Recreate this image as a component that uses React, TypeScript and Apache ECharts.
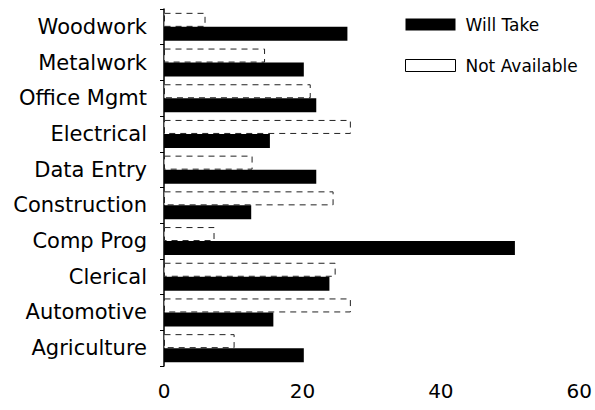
import React, { useEffect, useRef } from 'react';
import * as echarts from 'echarts';

const categories = ['Woodwork', 'Metalwork', 'Office Mgmt', 'Electrical', 'Data Entry', 'Construction', 'Comp Prog', 'Clerical', 'Automotive', 'Agriculture'];
const willTake = [26.5, 20.2, 22, 15.3, 22, 12.6, 50.7, 23.9, 15.8, 20.2];
const notAvailable = [6, 14.6, 21.2, 27, 12.8, 24.5, 7.3, 24.8, 27, 10.2];
const xMin = 0;
const xMax = 60;
const xStep = 20;

const FONT = 'DejaVu Sans';

export default function App() {
  const ref = useRef<HTMLDivElement>(null);
  useEffect(() => {
    if (!ref.current) return;
    const chart = echarts.init(ref.current, undefined, { renderer: 'svg' });
    chart.setOption({
      animation: false,
      backgroundColor: '#ffffff',
      grid: { left: 164, right: 12, top: 9, bottom: 44, containLabel: false },
      legend: {
        orient: 'vertical',
        left: 405,
        top: 16,
        padding: 0,
        icon: 'rect',
        itemWidth: 50,
        itemHeight: 12,
        itemGap: 24,
        textStyle: { fontFamily: FONT, fontSize: 17, color: '#000', padding: [0, 0, 0, 5] },
        data: [
          { name: 'Will Take', icon: 'rect' },
          { name: 'Not Available', icon: 'rect', itemStyle: { borderType: 'solid', borderColor: '#000', borderWidth: 1, color: '#fff' } },
        ],
      },
      xAxis: {
        type: 'value',
        min: xMin,
        max: xMax,
        interval: xStep,
        axisLine: { show: false },
        axisTick: { show: false },
        splitLine: { show: false },
        axisLabel: { fontFamily: FONT, fontSize: 20, color: '#000', margin: 15 },
      },
      yAxis: {
        type: 'category',
        data: categories,
        inverse: true,
        axisLine: { show: true, lineStyle: { color: '#000', width: 1.5 } },
        axisTick: { show: true, length: 4, lineStyle: { color: '#000' } },
        axisLabel: { fontFamily: FONT, fontSize: 21, color: '#000', margin: 17 },
      },
      series: [
        {
          name: 'Not Available',
          type: 'bar',
          data: notAvailable,
          barWidth: 14,
          barGap: '0%',
          itemStyle: { color: '#fff', borderColor: '#222', borderWidth: 1, borderType: [6, 5] },
        },
        {
          name: 'Will Take',
          type: 'bar',
          data: willTake,
          barWidth: 14,
          barGap: '0%',
          itemStyle: { color: '#000' },
        },
      ],
    });
    return () => chart.dispose();
  }, []);
  return <div ref={ref} style={{ width: 595, height: 410, position: 'absolute', left: 0, top: 0 }} />;
}
